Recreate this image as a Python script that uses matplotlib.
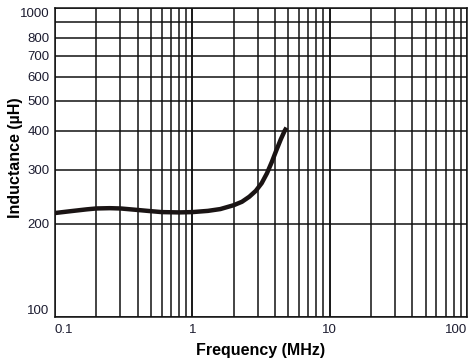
import matplotlib
matplotlib.use("Agg")
import matplotlib.pyplot as plt
from matplotlib.ticker import FixedLocator, NullFormatter, NullLocator

# inductance vs frequency
freq_mhz = [0.1, 0.13, 0.17, 0.2, 0.25, 0.3, 0.4, 0.5, 0.6, 0.8, 1.0,
            1.3, 1.6, 2.0, 2.3, 2.6, 2.9, 3.2, 3.5, 3.8, 4.1, 4.4, 4.7, 4.85]
induct_uh = [217, 220, 223, 224.5, 225, 224.5, 222, 220, 218.5, 218, 218.5,
             220.5, 223.5, 230, 236, 245, 256, 271, 292, 318, 347, 375, 400, 410]

x_ticks = [0.1, 1, 10, 100]
x_labels = ["0.1", "1", "10", "100"]
x_grid = [m * d for d in (0.1, 1, 10) for m in range(1, 11)]
y_ticks = [100, 200, 300, 400, 500, 600, 700, 800, 1000]
y_labels = ["100", "200", "300", "400", "500", "600", "700", "800", "1000"]
y_grid = list(range(100, 1001, 100))

plt.rcParams['font.family'] = ['Liberation Sans', 'DejaVu Sans']

fig = plt.figure(figsize=(4.76, 3.62), dpi=100)
ax = fig.add_axes([0.1155, 0.1243, 0.8655, 0.8537])
ax.set_xscale('log')
ax.set_yscale('log')
ax.set_xlim(0.1, 100)
ax.set_ylim(100, 1000)

for v in x_grid:
    ax.axvline(v, color='#111111', lw=1.1, zorder=1)
for v in y_grid:
    ax.axhline(v, color='#111111', lw=1.1, zorder=1)

ax.plot(freq_mhz, induct_uh, color='#1a1414', lw=3.2, zorder=3,
        solid_capstyle='butt', solid_joinstyle='round')

ax.xaxis.set_major_locator(FixedLocator(x_ticks))
ax.set_xticklabels(x_labels)
ax.xaxis.set_minor_locator(NullLocator())
ax.xaxis.set_minor_formatter(NullFormatter())
ax.yaxis.set_major_locator(FixedLocator(y_ticks))
ax.set_yticklabels(y_labels)
ax.yaxis.set_minor_locator(NullLocator())
ax.yaxis.set_minor_formatter(NullFormatter())
ax.tick_params(length=0, labelsize=9.5, colors='#1c1c30', pad=5)
ax.tick_params(axis='y', pad=4)
xl = ax.get_xticklabels()
xl[0].set_ha('left')
xl[-1].set_ha('right')
yl = ax.get_yticklabels()
yl[0].set_va('bottom')
yl[-1].set_va('top')

for s in ax.spines.values():
    s.set_color('#111111')
    s.set_linewidth(1.1)

ax.set_xlabel('Frequency (MHz)', fontsize=11.5, fontweight='bold', labelpad=5)
ax.set_ylabel('Inductance (µH)', fontsize=11.5, fontweight='bold')
ax.yaxis.set_label_coords(-0.077, 0.515)

fig.savefig('out.png', dpi=100)
